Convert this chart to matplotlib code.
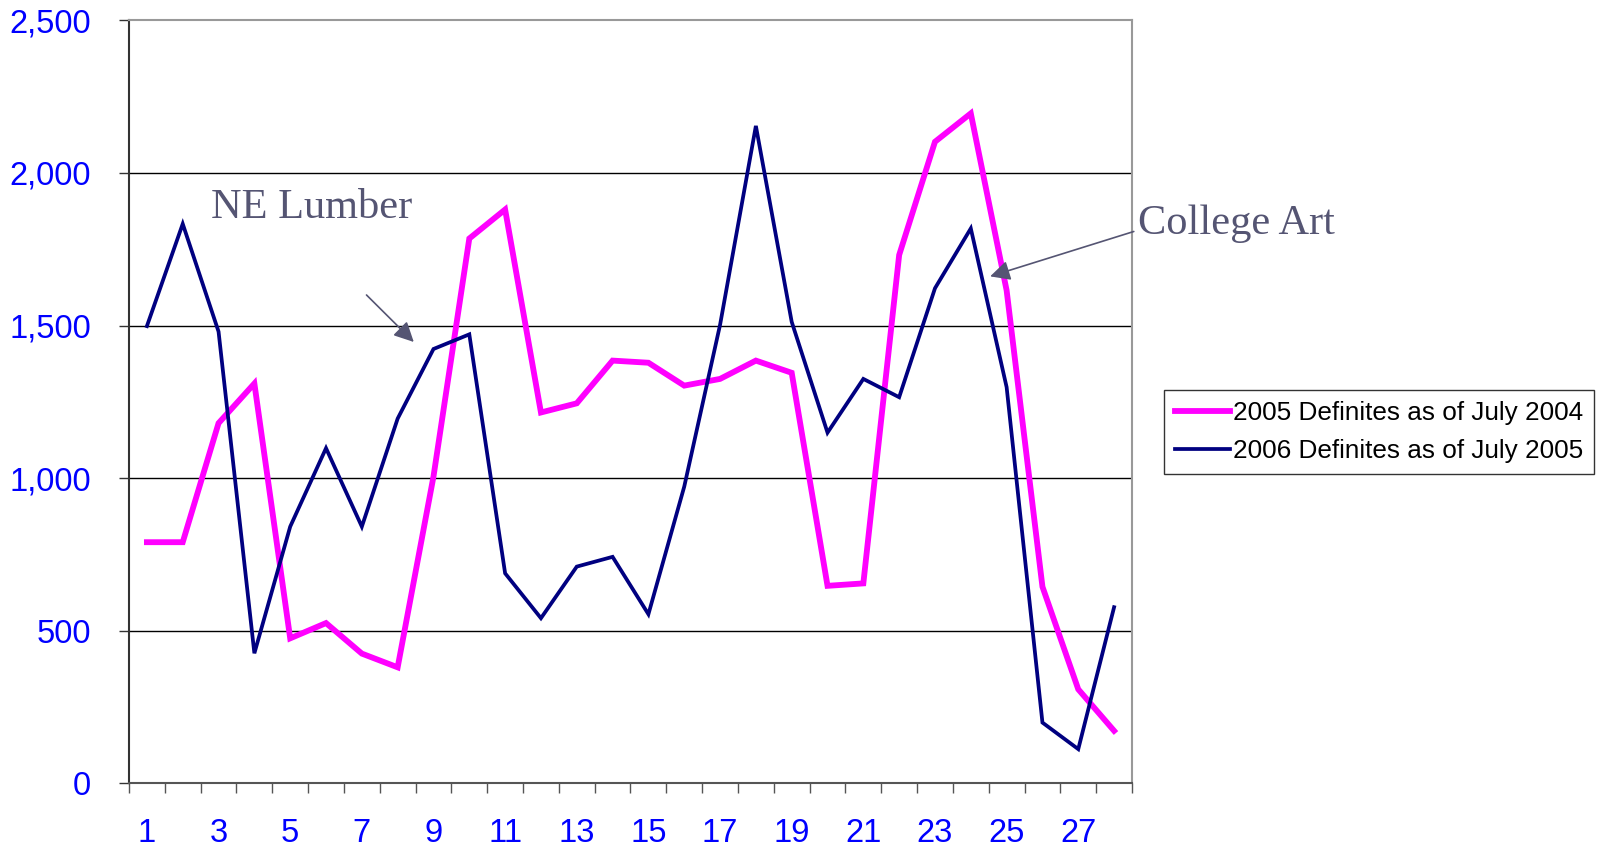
import numpy as np
import matplotlib.pyplot as plt
from matplotlib.ticker import FuncFormatter

# categories 1..28
cats = np.arange(1, 29)

# 2005 Definites as of July 2004
defs_2005 = [790, 790, 1180, 1310, 475, 525, 425, 380, 1005, 1785,
             1880, 1215, 1245, 1385, 1378, 1303, 1325, 1385, 1345, 647,
             655, 1731, 2102, 2195, 1615, 644, 308, 172]

# 2006 Definites as of July 2005
defs_2006 = [1498, 1833, 1480, 426, 841, 1098, 841, 1195, 1423, 1471,
             688, 541, 710, 742, 554, 972, 1502, 2154, 1512, 1149,
             1325, 1265, 1622, 1818, 1298, 199, 112, 577]

labels = ['2005 Definites as of July 2004', '2006 Definites as of July 2005']
xlabels = [str(i) for i in range(1, 29, 2)]

ann_color = '#555573'
tick_blue = '#0000FF'

fig = plt.figure(figsize=(15.99, 8.49), dpi=100)
ax = fig.add_axes([129/1599, 1-783.3/849, (1132-129)/1599, (783.3-20.3)/849])

l1, = ax.plot(cats, defs_2005, color='#FF00FF', lw=4.2, solid_joinstyle='miter', zorder=3)
l2, = ax.plot(cats, defs_2006, color='#000080', lw=2.7, solid_joinstyle='miter', zorder=4)

ax.set_xlim(0.5, 28.5)
ax.set_ylim(0, 2500)

# y axis
ax.set_yticks(np.arange(0, 2501, 500))
ax.yaxis.set_major_formatter(FuncFormatter(lambda v, p: f'{int(v):,}'))
ax.tick_params(axis='y', direction='out', length=7.5, width=1.0, color='#333333',
               pad=20, labelsize=23.5, labelcolor=tick_blue)
for g in range(500, 2500, 500):
    ax.axhline(g, color='black', lw=1.0, zorder=1)

# x axis: labels on odd categories, ticks on category boundaries
ax.set_xticks(np.arange(1, 29, 2))
ax.set_xticklabels(xlabels)
ax.set_xticks(np.arange(0.5, 29, 1), minor=True)
ax.tick_params(axis='x', which='major', length=0, pad=25, labelsize=23.5, labelcolor=tick_blue)
ax.tick_params(axis='x', which='minor', direction='out', length=7.5, width=1.0, color='#555555')

for lab in ax.get_xticklabels() + ax.get_yticklabels():
    lab.set_family('Liberation Sans')

ax.spines['left'].set_color('#333333')
ax.spines['left'].set_linewidth(1.5)
ax.spines['bottom'].set_color('#555555')
ax.spines['bottom'].set_linewidth(1.5)
ax.spines['top'].set_color('#999999')
ax.spines['top'].set_linewidth(1.5)
ax.spines['right'].set_color('#999999')
ax.spines['right'].set_linewidth(1.5)

# annotations
ax.text(2.79, 1885, 'NE Lumber', family='Liberation Serif', fontsize=30.5,
        color=ann_color, va='center', ha='left')
ax.annotate('', xy=(8.45, 1446), xytext=(7.13, 1600),
            arrowprops=dict(arrowstyle='-|>', color=ann_color, lw=1.2,
                            mutation_scale=30, shrinkA=0, shrinkB=0))

ax.text(28.66, 1832, 'College Art', family='Liberation Serif', fontsize=30.5,
        color=ann_color, va='center', ha='left', clip_on=False)
ax.annotate('', xy=(24.54, 1661), xytext=(28.55, 1808),
            arrowprops=dict(arrowstyle='-|>', color=ann_color, lw=1.2,
                            mutation_scale=30, shrinkA=0, shrinkB=0),
            annotation_clip=False)

leg = fig.legend([l1, l2], labels, loc='center left',
                 bbox_to_anchor=(1164/1599, 1-432/849),
                 prop={'family': 'Liberation Sans', 'size': 18.8},
                 frameon=True, fancybox=False, edgecolor='#333333', framealpha=1,
                 handlelength=2.1, handletextpad=0.12, borderpad=0.42,
                 labelspacing=0.55, borderaxespad=0)
leg.get_frame().set_linewidth(1.0)

fig.savefig('out.png', dpi=100)
